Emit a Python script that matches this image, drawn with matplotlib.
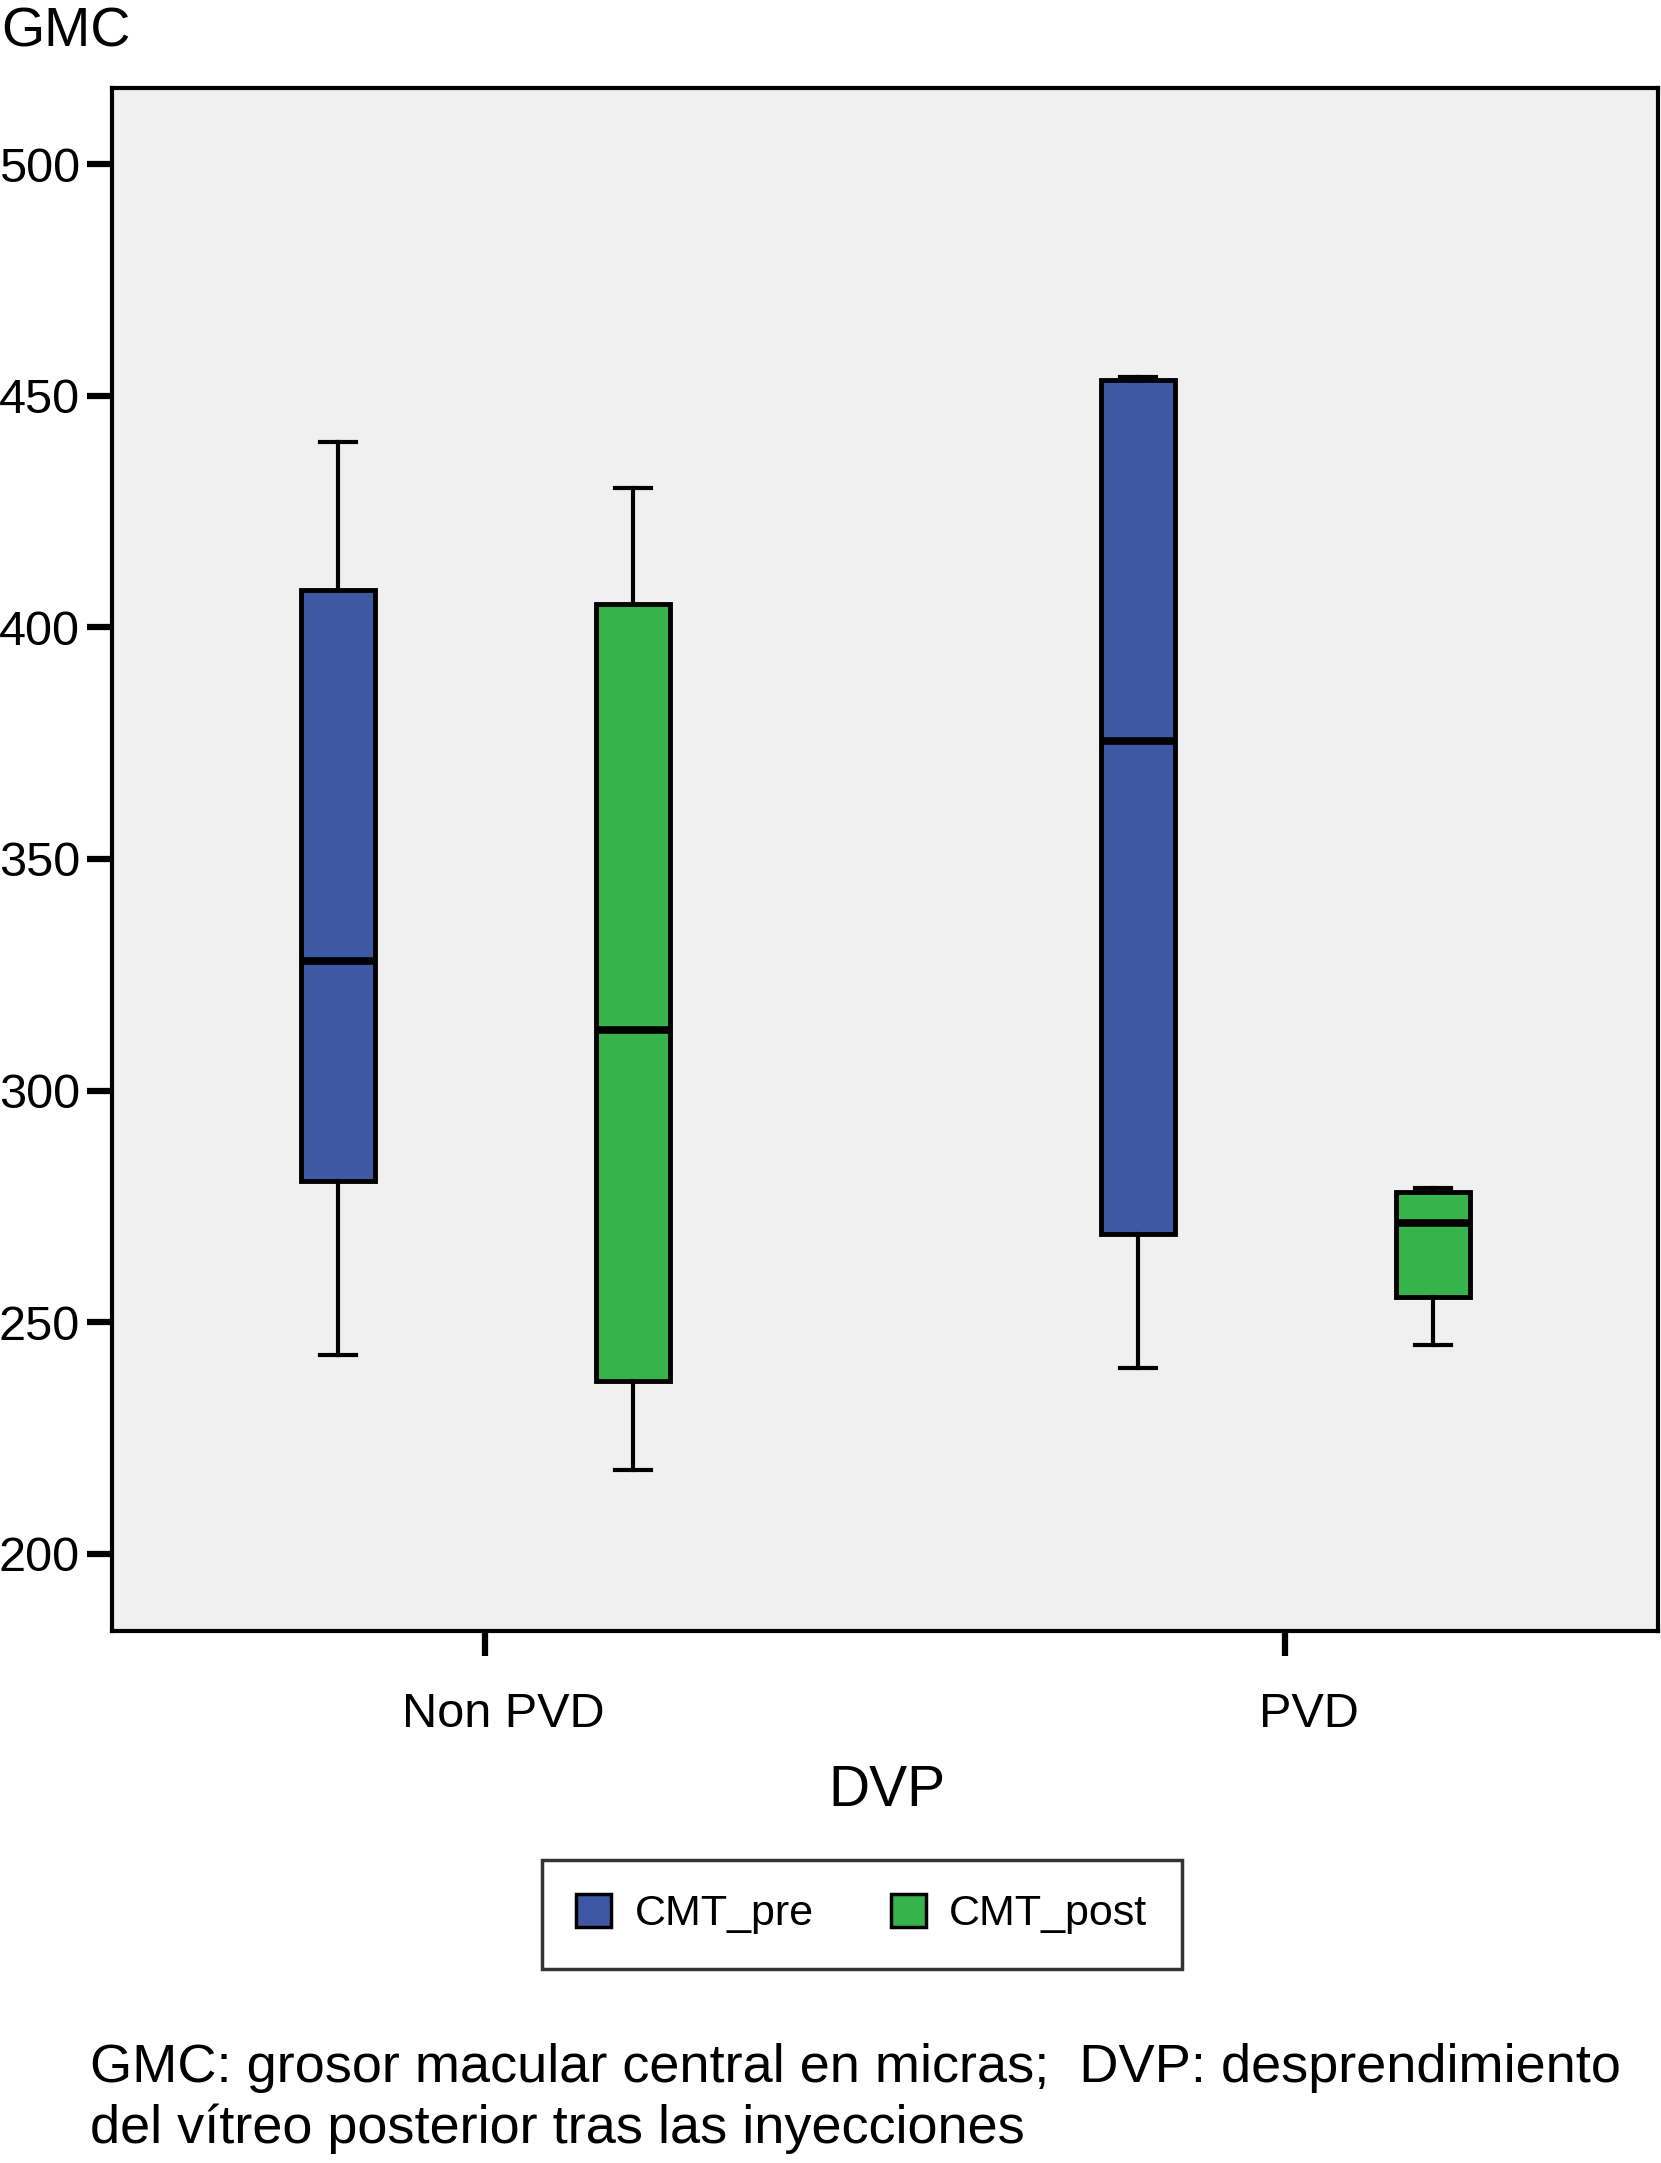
import matplotlib.pyplot as plt
import matplotlib.transforms as mtransforms
from matplotlib.patches import Patch

plt.rcParams['font.family'] = ['Liberation Sans', 'DejaVu Sans']

groups = ["Non PVD", "PVD"]
series = ["CMT_pre", "CMT_post"]
colors = ["#3F58A6", "#36B34A"]

# per box: lower whisker, Q1, median, Q3, upper whisker
pre_low = [243, 240]
pre_q1 = [280.5, 269]
pre_med = [328, 375.5]
pre_q3 = [408, 453.3]
pre_high = [440, 454]

post_low = [218, 245]
post_q1 = [237.3, 255.4]
post_med = [313, 271.5]
post_q3 = [405, 278]
post_high = [430, 279]

fig = plt.figure(figsize=(16.61, 21.63), dpi=100)
ax = fig.add_axes([0.0674, 0.2459, 0.9308, 0.7134])
ax.set_facecolor("#F0F0F0")

offset = 0.1845
width = 0.093
data = [(pre_low, pre_q1, pre_med, pre_q3, pre_high),
        (post_low, post_q1, post_med, post_q3, post_high)]
for s, (lo, q1, med, q3, hi) in enumerate(data):
    stats = []
    for g in range(len(groups)):
        stats.append(dict(whislo=lo[g], q1=q1[g], med=med[g], q3=q3[g], whishi=hi[g], fliers=[]))
    pos = [g + (offset if s else -offset) for g in range(len(groups))]
    ax.bxp(stats, positions=pos, widths=width, capwidths=width * 0.48,
           patch_artist=True, showfliers=False, manage_ticks=False,
           boxprops=dict(facecolor=colors[s], edgecolor="black", linewidth=3.5),
           medianprops=dict(color="black", linewidth=5.5),
           whiskerprops=dict(color="black", linewidth=3),
           capprops=dict(color="black", linewidth=3))

ax.set_xlim(-0.467, 1.466)
ax.set_ylim(183.3, 516.4)
ax.set_yticks([200, 250, 300, 350, 400, 450, 500])
ax.set_xticks([0, 1])
ax.set_xticklabels(groups)
for sp in ax.spines.values():
    sp.set_linewidth(3)
ax.tick_params(axis="y", length=18, width=4.5, labelsize=35, pad=5)
ax.tick_params(axis="x", length=18, width=4.5, labelsize=35, pad=26)
for lab, dx in zip(ax.get_xticklabels(), [0.18, 0.235]):
    lab.set_transform(lab.get_transform() + mtransforms.ScaledTranslation(dx, 0, fig.dpi_scale_trans))

fig.text(0.534, 0.172, "DVP", fontsize=41, ha="center", va="center")
fig.text(0.001, 0.997, "GMC", fontsize=40, ha="left", va="top")

handles = [Patch(facecolor=colors[i], edgecolor="black", linewidth=2.5, label=series[i]) for i in range(2)]
leg = fig.legend(handles=handles, loc="center", bbox_to_anchor=(0.519, 0.115), ncol=2,
                 fontsize=31, frameon=True, fancybox=False, edgecolor="black",
                 handlelength=0.8, handleheight=0.8, handletextpad=0.55, columnspacing=1.8,
                 borderpad=0.8, borderaxespad=0)
leg.get_frame().set_linewidth(2.5)

fig.text(0.054, 0.030, "GMC: grosor macular central en micras;  DVP: desprendimiento\n"
         "del vítreo posterior tras las inyecciones", fontsize=39, ha="left", va="center",
         linespacing=1.27)

fig.savefig("out.png", dpi=100)
